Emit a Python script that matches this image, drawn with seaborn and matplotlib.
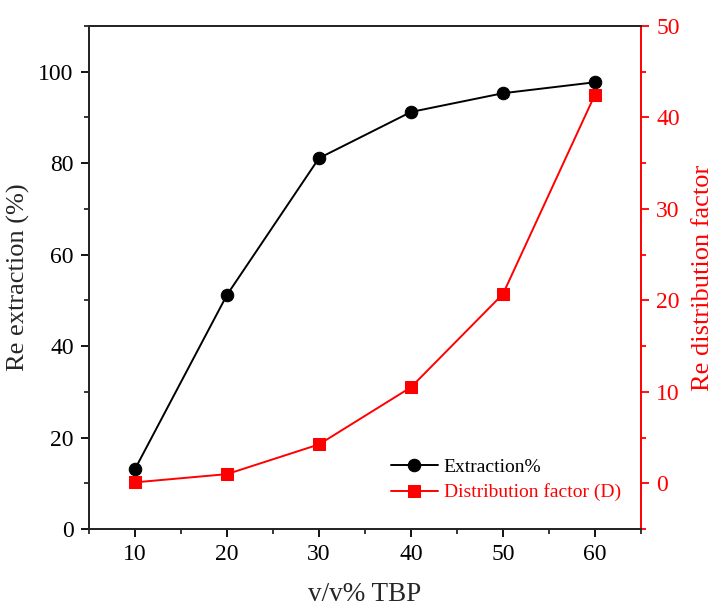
import numpy as np
import pandas as pd
import matplotlib
matplotlib.use("Agg")
import matplotlib.pyplot as plt
import seaborn as sns
from matplotlib.ticker import MultipleLocator

tbp = [10, 20, 30, 40, 50, 60]
extraction = [13.1, 51.2, 81.1, 91.2, 95.3, 97.7]
dist_factor = [0.1, 1.0, 4.25, 10.5, 20.7, 42.5]

sns.set_style("ticks")
plt.rcParams['font.family'] = ['Liberation Serif', 'DejaVu Serif']
plt.rcParams['mathtext.fontset'] = 'stix'

df = pd.DataFrame({"tbp": tbp, "ext": extraction, "D": dist_factor})

fig = plt.figure(figsize=(7.16, 6.07), dpi=100)
ax = fig.add_axes([89/716, 1-529/607, (641-89)/716, (529-26)/607])
ax2 = ax.twinx()

sns.lineplot(data=df, x="tbp", y="ext", ax=ax, color="black", marker="o",
             markersize=9, markeredgecolor="black", linewidth=1.4,
             label="Extraction%", legend=False)
sns.lineplot(data=df, x="tbp", y="D", ax=ax2, color="red", marker="s",
             markersize=8, markeredgecolor="red", linewidth=1.4,
             label="Distribution factor (D)", legend=False)

ax.set_xlim(5, 65)
ax.set_ylim(0, 110)
ax2.set_ylim(-5, 50)

ax.xaxis.set_major_locator(MultipleLocator(10))
ax.xaxis.set_minor_locator(MultipleLocator(5))
ax.yaxis.set_major_locator(MultipleLocator(20))
ax.yaxis.set_minor_locator(MultipleLocator(10))
ax2.yaxis.set_major_locator(MultipleLocator(10))
ax2.yaxis.set_minor_locator(MultipleLocator(5))

for a in (ax, ax2):
    for s in a.spines.values():
        s.set_linewidth(1.4)
        s.set_visible(True)
ax2.spines['right'].set_color('red')
ax.spines['right'].set_visible(False)

ax.tick_params(axis='both', which='major', direction='out', length=6, width=1.3,
               labelsize=17, colors='black', top=False, right=False, pad=5)
ax.tick_params(axis='both', which='minor', direction='out', length=3.5, width=1.3,
               top=False, right=False)
ax2.tick_params(axis='y', which='major', direction='out', length=6, width=1.3,
                labelsize=17, colors='red', pad=5)
ax2.tick_params(axis='y', which='minor', direction='out', length=3.5, width=1.3,
                colors='red')

ax.set_xlabel("v/v% TBP", fontsize=19.5, labelpad=12)
ax.set_ylabel("Re extraction (%)", fontsize=19, labelpad=6)
ax2.set_ylabel("Re distribution factor", fontsize=19, color='red', labelpad=9)

h1, l1 = ax.get_legend_handles_labels()
h2, l2 = ax2.get_legend_handles_labels()
leg = ax2.legend(h1 + h2, l1 + l2, loc='lower right', bbox_to_anchor=(0.995, 0.02),
                 frameon=False, fontsize=14, handlelength=2.4, handletextpad=0.3,
                 labelspacing=0.4)
for txt, c in zip(leg.get_texts(), ['black', 'red']):
    txt.set_color(c)

fig.savefig("out.png", dpi=100)
